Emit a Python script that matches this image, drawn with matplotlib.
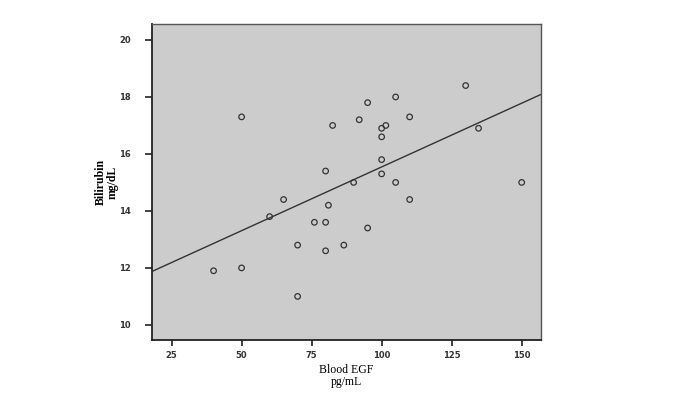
import numpy as np
import matplotlib.pyplot as plt

# Datos (EGF en sangre vs bilirrubina)
egf = [50, 82.5, 80, 65, 60, 81, 76, 80, 70, 80, 86.5, 40, 50, 70,
       95, 92, 105, 110, 100, 101.5, 100, 100, 100, 90, 105, 130, 134.6,
       150, 110, 95]
bilirrubina = [17.3, 17.0, 15.4, 14.4, 13.8, 14.2, 13.6, 13.6, 12.8, 12.6,
               12.8, 11.9, 12.0, 11.0, 17.8, 17.2, 18.0, 17.3, 16.9, 17.0,
               16.6, 15.8, 15.3, 15.0, 15.0, 18.4, 16.9, 15.0, 14.4, 13.4]
xticks = [25, 50, 75, 100, 125, 150]
yticks = [10, 12, 14, 16, 18, 20]

x = np.array(egf)
y = np.array(bilirrubina)

fig = plt.figure(figsize=(6.75, 4), dpi=100)
ax = fig.add_axes([0.2247, 0.15, 0.5768, 0.79])
ax.set_facecolor('#cccccc')

ax.scatter(x, y, s=16, facecolors='none', edgecolors='#333333', linewidths=0.9, zorder=3)

# recta de regresion
m, b = np.polyfit(x, y, 1)
xl = np.array([17.9, 156.9])
ax.plot(xl, m * xl + b, color='#333333', linewidth=1.0, zorder=2)

ax.set_xlim(17.9, 156.9)
ax.set_ylim(9.47, 20.56)
ax.set_xticks(xticks)
ax.set_yticks(yticks)

for lab in ax.get_xticklabels() + ax.get_yticklabels():
    lab.set_fontsize(6)
    lab.set_fontweight('bold')
    lab.set_color('#333333')

ax.tick_params(axis='x', direction='out', length=4, width=1.2, pad=4, color='#222222')
ax.tick_params(axis='y', direction='out', length=5, width=1.2, pad=10, color='#222222')

for lado in ['left', 'bottom']:
    ax.spines[lado].set_linewidth(1.3)
    ax.spines[lado].set_color('#222222')
for lado in ['top', 'right']:
    ax.spines[lado].set_linewidth(1.0)
    ax.spines[lado].set_color('#555555')

ax.set_xlabel('Blood EGF\npg/mL', fontsize=8.5, family='Liberation Serif',
              linespacing=1.0, labelpad=3)
ax.set_ylabel('Bilirubin\nmg/dL', fontsize=8.5, family='Liberation Serif',
              fontweight='bold', linespacing=1.0, labelpad=0)

plt.savefig('out.png', dpi=100)
